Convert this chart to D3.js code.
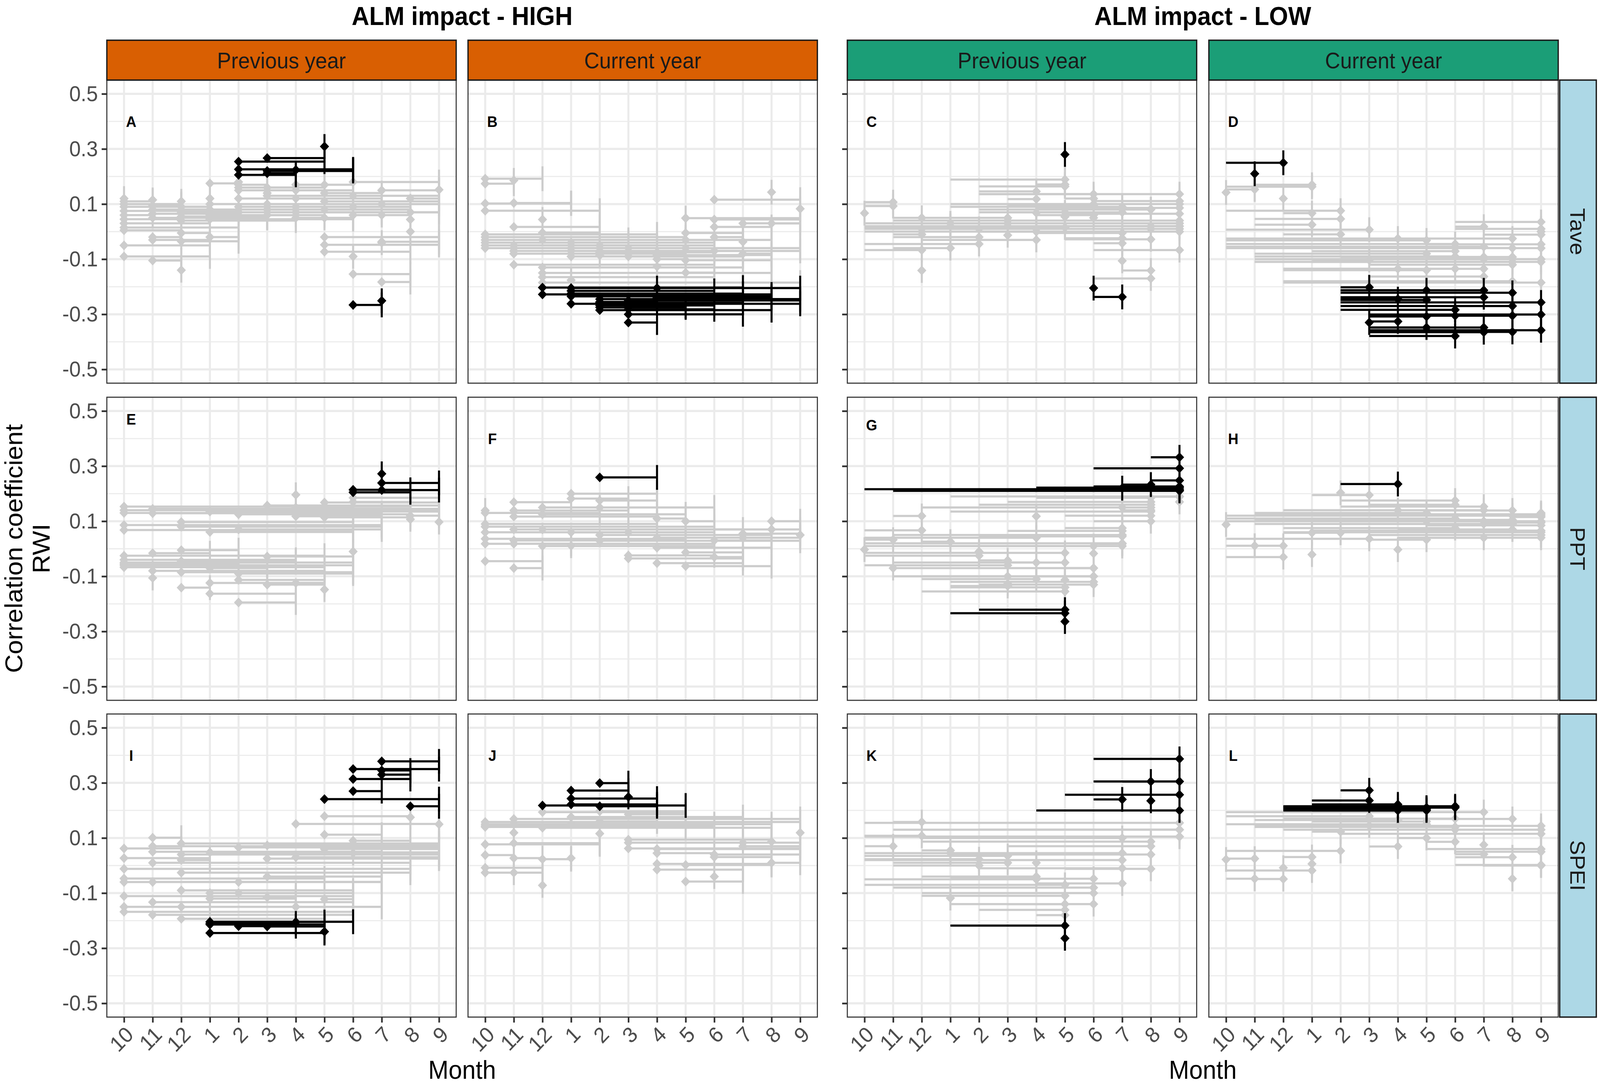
<!DOCTYPE html>
<html lang="en">
<head>
<meta charset="UTF-8">
<title>ALM impact correlations</title>
<style>
  html, body { margin: 0; padding: 0; background: #fff; overflow: hidden; }
  svg { display: block; width: 100vw; height: 100vh; font-family: "Liberation Sans", Arial, Helvetica, sans-serif; }
  .grid-major { stroke: #ebebeb; stroke-width: 5.5; }
  .grid-minor { stroke: #ebebeb; stroke-width: 2.8; }
  .frame { fill: none; stroke: #333; stroke-width: 2.8; }
  .axis .domain { display: none; }
  .axis line { stroke: #333; stroke-width: 4.5; }
  .axis text { fill: #4d4d4d; font-size: 56px; }
</style>
</head>
<body>
<svg></svg>
<script src="https://d3js.org/d3.v7.min.js"></script>
<script>
// axis categories
var monthOrder = [10, 11, 12, 1, 2, 3, 4, 5, 6, 7, 8, 9];
var yTicks = [-0.5, -0.3, -0.1, 0.1, 0.3, 0.5];
var yMinor = [-0.4, -0.2, 0, 0.2, 0.4];
var groupTitles = ["ALM impact - HIGH", "ALM impact - LOW"];
var periodLabels = ["Previous year", "Current year"];
var climateVars = ["Tave", "PPT", "SPEI"];
var panelTags = ["A", "B", "C", "D", "E", "F", "G", "H", "I", "J", "K", "L"];
var tagLevel = [0.4, 0.4, 0.4, 0.4, 0.47, 0.4, 0.45, 0.4, 0.4, 0.4, 0.4, 0.4];

// records: [start month, end month, r]  (sig = black, ns = grey)
var sigA = [[2,5,0.254],[3,5,0.267],[5,5,0.309],[2,6,0.226],[3,6,0.22],[2,4,0.206],[3,4,0.212],[4,6,0.224],[6,7,-0.266],[7,7,-0.251]];
var nsA = [[10,10,0.12],[10,11,0.11],[10,12,0.10],[10,1,0.09],[10,2,0.075],[10,11,0.06],[10,12,0.045],[10,1,0.03],[10,2,0.015],[10,12,0.005],[10,1,-0.05],[10,1,-0.09],
  [11,11,0.115],[11,12,0.095],[11,1,0.08],[11,2,0.065],[11,3,0.05],[11,12,-0.02],[11,1,-0.03],[11,12,-0.105],
  [12,12,0.11],[12,1,0.09],[12,2,0.07],[12,3,0.055],[12,4,0.04],[12,1,-0.005],[12,2,-0.035],[12,12,-0.14],
  [1,1,0.12],[1,2,0.175],[1,3,0.1],[1,4,0.08],[1,5,0.06],[1,6,0.045],[1,2,-0.02],
  [2,2,0.18],[2,3,0.17],[2,4,0.16],[2,6,0.15],[2,5,0.12],[2,6,0.09],[2,7,0.07],[2,3,0.05],
  [3,3,0.14],[3,5,0.16],[3,6,0.13],[3,7,0.1],[3,8,0.08],[3,4,0.06],
  [4,4,0.15],[4,6,0.17],[4,7,0.12],[4,8,0.09],[4,9,0.07],[4,5,0.05],
  [5,5,0.17],[5,7,0.14],[5,9,0.11],[5,8,0.08],[5,6,0.05],[5,9,-0.02],[5,9,-0.048],[5,8,-0.073],
  [6,6,-0.09],[6,8,-0.154],[6,9,0.18],[6,9,0.13],[6,8,0.09],[6,7,0.06],
  [7,7,-0.04],[7,9,-0.037],[7,8,-0.183],[7,9,0.15],[7,9,0.1],[7,8,0.06],
  [8,8,0.044],[8,8,0.0],[8,9,0.12],[8,9,0.07],[9,9,0.152]];

var sigB = [[12,7,-0.203],[12,8,-0.228],[1,4,-0.205],[1,6,-0.215],[1,7,-0.225],[1,8,-0.235],[1,9,-0.262],[2,9,-0.245],[2,7,-0.258],[2,6,-0.268],
  [2,8,-0.285],[2,5,-0.275],[3,5,-0.27],[3,6,-0.282],[3,7,-0.3],[3,4,-0.33],[4,9,-0.205],[4,8,-0.24],[3,9,-0.25],[2,4,-0.255]];
var nsB = [[10,12,0.192],[10,11,0.174],[10,1,0.102],[10,2,0.076],[10,4,-0.01],[10,5,-0.02],[10,3,-0.03],[10,6,-0.04],[10,2,-0.05],[10,4,-0.06],
  [11,11,0.186],[11,1,0.104],[11,2,0.017],[11,6,-0.05],[11,5,-0.06],[11,7,-0.07],[11,4,-0.08],[11,6,-0.12],
  [12,12,0.044],[12,2,-0.004],[12,5,-0.03],[12,7,-0.13],[12,8,-0.15],[12,6,-0.165],[12,9,-0.185],
  [1,3,-0.04],[1,5,-0.06],[1,6,-0.07],[1,1,-0.176],[1,7,-0.09],
  [2,2,-0.086],[2,4,-0.05],[2,6,-0.07],[2,5,-0.075],
  [3,3,-0.06],[3,5,-0.08],[3,7,-0.09],
  [4,4,-0.127],[4,6,-0.075],[4,8,-0.085],[4,5,-0.1],
  [5,5,0.049],[5,9,0.049],[5,7,-0.005],[5,8,-0.03],[5,9,-0.06],[5,8,-0.104],[5,6,-0.149],
  [6,9,0.116],[6,9,0.044],[6,8,0.017],[6,7,-0.02],[6,9,-0.07],
  [7,9,0.03],[7,7,-0.037],[7,8,-0.08],[8,8,0.143],[8,9,0.03],[9,9,0.083]];

var sigC = [[5,5,0.28],[6,6,-0.205],[6,7,-0.237]];
var nsC = [[10,10,0.067],[10,11,0.107],[10,11,0.093],[10,12,-0.067],[10,2,-0.045],[10,12,0.01],[10,1,0.02],[10,3,0.03],[10,4,0.0],[10,5,0.015],
  [11,1,-0.06],[11,12,0.05],[11,3,0.04],[11,12,-0.01],[11,2,-0.02],
  [12,12,-0.141],[12,1,0.03],[12,2,0.01],[12,4,-0.03],[12,3,0.05],
  [1,5,0.189],[1,6,0.1],[1,7,0.09],[1,3,0.02],[1,9,0.03],[1,4,0.01],
  [2,4,0.146],[2,5,0.164],[2,6,0.136],[2,8,0.08],[2,9,0.0],[2,7,0.07],
  [3,4,0.118],[3,5,0.07],[3,3,-0.013],[3,6,0.095],[3,8,0.02],[3,9,0.04],
  [4,5,0.171],[4,4,0.068],[4,6,0.06],[4,8,0.01],[4,9,0.02],[4,7,-0.005],
  [5,5,0.054],[5,7,-0.024],[5,8,-0.028],[5,9,0.065],[5,6,0.12],
  [6,7,-0.042],[6,9,-0.067],[6,8,-0.17],[6,6,0.05],[6,9,0.1],
  [7,7,-0.106],[7,8,-0.141],[7,9,0.02],[8,8,0.082],[8,9,0.01],
  [2,9,0.136],[6,9,0.111],[4,9,0.086]];

var sigD = [[10,12,0.25],[11,11,0.21],[2,3,-0.202],[3,3,-0.33],[3,4,-0.326],[2,4,-0.245],[2,5,-0.213],[2,5,-0.248],[3,5,-0.308],[3,5,-0.348],
  [2,6,-0.284],[3,6,-0.379],[3,6,-0.305],[2,7,-0.213],[2,7,-0.238],[3,7,-0.348],[3,7,-0.365],[2,8,-0.222],[2,8,-0.27],[3,8,-0.305],
  [3,8,-0.364],[2,9,-0.257],[3,9,-0.301],[3,9,-0.358]];
var nsD = [[10,10,0.142],[10,11,0.153],[11,1,0.17],[10,1,0.163],[12,12,0.12],[12,1,0.067],[11,1,0.025],
  [10,2,0.076],[11,2,0.046],[12,2,-0.01],
  [10,3,0.007],[1,3,-0.103],[10,4,-0.025],[12,4,-0.135],[10,5,-0.032],[10,6,-0.045],[10,7,-0.055],[10,8,-0.06],
  [11,5,-0.08],[11,6,-0.09],[11,7,-0.1],[11,8,-0.11],[11,9,-0.1],
  [12,6,-0.135],[12,5,-0.14],[12,9,-0.185],[12,8,-0.18],
  [1,6,-0.071],[1,9,-0.11],[2,7,-0.092],[6,7,0.018],[5,7,-0.135],[3,7,-0.163],
  [4,8,-0.025],[5,8,-0.092],[3,8,-0.12],
  [6,9,0.035],[6,9,0.01],[7,9,-0.011],[5,9,-0.046],[4,9,-0.06],[9,9,0.0]];

var sigE = [[6,8,0.214],[6,8,0.205],[7,7,0.272],[7,9,0.239],[7,9,0.213]];
var nsE = [[10,8,0.153],[10,9,0.14],[10,6,0.13],[10,7,0.086],[10,6,0.068],[10,5,-0.025],[10,4,-0.04],[10,6,-0.05],[10,3,-0.06],[10,5,-0.067],[10,2,-0.055],
  [11,9,0.145],[11,7,0.129],[11,1,-0.016],[11,6,-0.06],[11,5,-0.08],[11,11,-0.106],
  [12,6,0.097],[12,7,0.08],[12,2,-0.005],[12,4,-0.045],[12,6,-0.085],[12,1,-0.141],
  [1,9,0.135],[1,6,0.061],[1,5,-0.124],[1,4,-0.163],[1,3,-0.07],
  [2,8,0.125],[2,7,0.07],[2,5,-0.113],[2,4,-0.195],[2,6,-0.09],
  [3,9,0.157],[3,6,-0.028],[3,5,-0.13],
  [4,4,0.196],[4,7,0.118],[4,5,-0.124],[4,6,0.15],
  [5,9,0.168],[5,8,0.114],[5,5,-0.148],[5,6,0.14],
  [6,6,-0.01],[6,9,0.185],[6,8,0.17],[8,8,0.107],[8,9,0.12],[9,9,0.097]];

var sigF = [[2,4,0.259]];
var nsF = [[10,10,0.139],[10,2,0.13],[10,4,0.09],[10,6,0.08],[10,3,0.06],[10,5,0.036],[10,1,0.018],[10,12,-0.045],
  [11,1,0.169],[11,3,0.139],[11,4,0.117],[11,7,0.07],[11,5,0.03],[11,6,0.018],[11,12,-0.07],
  [12,2,0.15],[12,5,0.125],[12,8,0.07],[12,6,0.01],
  [1,4,0.2],[1,3,0.182],[1,6,0.06],[1,1,0.011],
  [2,4,0.175],[2,6,0.15],[2,8,0.05],[2,9,0.029],
  [3,6,-0.024],[3,7,-0.035],[3,5,0.06],
  [4,5,0.11],[4,8,0.004],[4,7,-0.052],[4,9,0.04],
  [5,6,0.1],[5,7,-0.013],[5,8,-0.063],
  [6,8,0.03],[6,7,-0.03],[7,9,0.055],[7,8,0.04],[8,9,0.1],[8,9,0.07],[9,9,0.05]];

var sigG = [[8,9,0.332],[6,9,0.292],[8,9,0.248],[10,9,0.216],[11,9,0.21],[4,9,0.222],[6,7,0.22],[7,8,0.233],[6,9,0.226],[5,9,0.212],
  [2,5,-0.221],[1,5,-0.234],[5,5,-0.264]];
var nsG = [[10,10,-0.003],[10,11,0.033],[10,12,0.067],[10,4,0.04],[10,6,0.01],[10,7,0.02],[10,5,-0.015],[10,2,-0.025],[10,3,-0.06],
  [11,12,0.119],[11,11,-0.07],[11,6,-0.07],[11,5,-0.05],[11,7,0.05],[11,3,-0.1],
  [12,1,0.026],[12,6,-0.1],[12,5,-0.155],[12,4,-0.11],[12,8,0.15],
  [1,7,0.01],[1,9,0.19],[1,6,-0.12],[1,5,-0.14],[1,3,-0.135],[1,8,0.135],
  [2,2,-0.01],[2,8,0.16],[2,3,-0.042],[2,6,-0.13],[2,7,0.045],
  [3,3,-0.127],[3,7,0.065],[3,8,0.17],[3,4,-0.05],
  [4,4,0.118],[4,7,0.05],[4,6,-0.1],[4,8,0.185],
  [5,5,-0.113],[5,7,0.075],[5,8,0.12],[5,6,-0.07],
  [6,7,0.018],[6,8,0.1],[6,6,-0.017],[7,8,0.14],[7,7,0.15],[8,9,0.189],[9,9,0.17]];

var sigH = [[2,4,0.235]];
var nsH = [[10,10,0.088],[10,11,0.011],[10,12,-0.03],[10,9,0.12],[10,3,0.036],[10,7,0.1],[10,6,0.11],
  [11,12,0.011],[11,9,0.125],[11,8,0.105],[11,5,0.13],[11,7,0.09],
  [12,1,0.058],[12,2,0.058],[12,9,0.06],[12,6,0.075],[12,4,0.14],
  [1,1,-0.021],[1,3,0.195],[1,5,0.1],[1,9,0.066],
  [2,2,0.203],[2,6,0.175],[2,7,0.153],[2,8,0.09],
  [3,5,0.033],[3,9,0.05],[3,6,0.16],
  [4,4,-0.003],[4,7,0.14],[4,8,0.07],[4,9,0.04],
  [5,8,0.139],[5,9,0.085],[5,7,0.04],
  [6,8,0.12],[6,9,0.1],[7,9,0.095],[8,9,0.115],[9,9,0.13]];

var sigI = [[7,9,0.378],[6,9,0.35],[7,8,0.345],[7,8,0.33],[6,8,0.314],[6,7,0.27],[5,9,0.241],[8,9,0.215],
  [1,6,-0.204],[1,5,-0.214],[2,4,-0.22],[3,5,-0.221],[1,5,-0.245],[5,5,-0.24],[1,4,-0.21],[4,5,-0.205]];
var nsI = [[10,12,0.062],[10,1,0.027],[10,8,-0.012],[10,5,-0.047],[10,7,-0.06],[10,6,-0.111],[10,5,-0.15],[10,6,-0.168],
  [11,12,0.101],[11,9,0.07],[11,7,0.05],[11,8,0.01],[11,7,-0.06],[11,6,-0.133],[11,6,-0.179],
  [12,9,0.08],[12,9,0.04],[12,1,0.02],[12,8,-0.026],[12,6,-0.09],[12,5,-0.193],[12,1,-0.15],
  [1,9,0.048],[1,6,-0.1],[1,4,-0.12],
  [2,9,0.066],[2,7,-0.06],[2,4,-0.1],
  [3,9,0.073],[3,9,0.025],[3,7,-0.04],[3,4,-0.115],
  [4,9,0.151],[4,9,0.03],[4,7,-0.15],
  [5,8,0.179],[5,7,0.112],[5,6,-0.122],[5,9,0.06],
  [6,6,0.045],[6,8,0.09],[8,8,0.175],[9,9,0.15]];

var sigJ = [[2,3,0.299],[1,3,0.272],[1,4,0.243],[3,3,0.249],[12,5,0.218],[1,4,0.222],[2,4,0.215]];
var nsJ = [[10,9,0.158],[10,8,0.15],[10,6,0.144],[10,5,0.14],[10,2,0.077],[10,11,0.038],[10,12,-0.008],[10,11,-0.026],
  [11,9,0.169],[11,7,0.15],[11,11,0.119],[11,2,0.081],[11,12,0.027],[11,12,-0.026],
  [12,5,0.194],[12,8,0.137],[12,1,0.023],[12,12,-0.072],
  [1,7,0.176],[1,1,0.027],[1,6,0.15],
  [2,5,0.197],[2,2,0.116],[2,4,0.16],
  [3,5,0.186],[3,8,0.094],[3,9,0.083],[3,9,0.062],
  [4,6,0.045],[4,9,0.06],[4,8,0.006],[4,7,-0.015],
  [5,8,0.002],[5,7,-0.058],
  [6,8,0.031],[6,6,-0.04],[6,9,0.04],
  [7,7,0.083],[7,9,0.07],[8,8,0.087],[8,9,0.01],[9,9,0.119]];

var sigK = [[6,9,0.387],[6,8,0.305],[7,9,0.305],[5,9,0.257],[6,7,0.24],[8,8,0.235],[4,9,0.2],[1,5,-0.218],[5,5,-0.264]];
var nsK = [[10,9,0.155],[11,9,0.13],[10,9,0.105],[11,12,0.158],[10,12,0.108],[10,11,0.07],
  [12,1,0.055],[10,1,0.045],[10,2,0.023],[11,2,0.0],[10,3,0.035],[11,3,0.01],[12,4,-0.04],[10,4,-0.05],
  [12,5,-0.11],[1,5,-0.14],[2,5,-0.161],[4,5,-0.18],[10,5,-0.07],
  [1,6,-0.048],[11,6,-0.08],[12,6,-0.1],[3,6,-0.14],
  [12,7,0.1],[1,7,0.045],[10,7,0.02],[2,7,-0.01],[4,7,-0.065],
  [12,8,0.087],[3,8,0.07],[1,8,0.04],[5,8,-0.012],
  [2,9,0.13],[12,9,0.105],[1,1,-0.118],[4,4,0.01]];

var sigL = [[2,3,0.273],[1,3,0.236],[12,4,0.215],[1,4,0.222],[12,5,0.205],[1,5,0.21],[1,6,0.215],[12,6,0.21],[1,5,0.2],[12,4,0.2]];
var nsL = [[10,10,0.022],[10,11,0.025],[10,11,-0.048],[11,12,-0.049],[12,12,-0.008],
  [12,1,0.031],[1,1,0.006],[10,1,-0.018],[10,2,0.053],[1,2,0.123],
  [10,3,0.179],[11,4,0.165],[10,5,0.15],[11,6,0.14],[10,7,0.194],[12,6,0.13],[1,5,0.16],[11,3,0.145],
  [3,4,0.069],[4,5,0.1],[12,6,0.17],[5,6,0.086],
  [7,7,0.075],[6,7,0.041],[5,8,0.169],[6,8,0.03],[8,8,-0.048],
  [3,9,0.144],[4,9,0.13],[2,9,0.115],[5,9,0.06],[6,9,0.05],[6,9,0.002],[7,9,0.0]];

var panelSig = [sigA, sigB, sigC, sigD, sigE, sigF, sigG, sigH, sigI, sigJ, sigK, sigL];
var panelNs = [nsA, nsB, nsC, nsD, nsE, nsF, nsG, nsH, nsI, nsJ, nsK, nsL];

// layout
var width = 4328, height = 2783;
var colX = [289, 1266, 2292, 3270];
var rowY = [205, 1017, 1828];
var pw = 945, ph = 776;
var stripTop = 103, stripH = 102;
var sideX = 4219, sideW = 99;
var groupFill = ["#d95f02", "#1b9e77"];
var ciHalf = 0.045;

// stretch the drawing over the whole window
var svg = d3.select("svg")
  .attr("viewBox", "0 0 " + width + " " + height)
  .attr("preserveAspectRatio", "none");

var x = d3.scalePoint().domain(monthOrder).range([0, pw]).padding(0.6);
var y = d3.scaleLinear().domain([-0.55, 0.55]).range([ph, 0]);

function diamond(r) {
  return "M0," + (-r) + "L" + r + ",0L0," + r + "L" + (-r) + ",0Z";
}

panelTags.forEach(function(tag, i) {
  var row = Math.floor(i / 4), col = i % 4;
  var grp = col < 2 ? 0 : 1;
  var g = svg.append("g").attr("transform", "translate(" + colX[col] + "," + rowY[row] + ")");

  // grid
  g.selectAll(".ymin").data(yMinor).enter().append("line")
    .attr("class", "grid-minor").attr("x1", 0).attr("x2", pw)
    .attr("y1", d => y(d)).attr("y2", d => y(d));
  g.selectAll(".ymaj").data(yTicks).enter().append("line")
    .attr("class", "grid-major").attr("x1", 0).attr("x2", pw)
    .attr("y1", d => y(d)).attr("y2", d => y(d));
  g.selectAll(".xmaj").data(monthOrder).enter().append("line")
    .attr("class", "grid-major").attr("y1", 0).attr("y2", ph)
    .attr("x1", d => x(d)).attr("x2", d => x(d));

  // HIGH panels mark the window start, LOW panels the window end
  function drawSet(data, colour) {
    var s = g.append("g");
    s.selectAll(".h").data(data).enter().append("line")
      .attr("x1", d => x(d[0])).attr("x2", d => x(d[1]))
      .attr("y1", d => y(d[2])).attr("y2", d => y(d[2]))
      .attr("stroke", colour).attr("stroke-width", 5.5);
    s.selectAll(".v").data(data).enter().append("line")
      .attr("x1", d => x(d[1])).attr("x2", d => x(d[1]))
      .attr("y1", d => y(d[2] - ciHalf)).attr("y2", d => y(d[2] + ciHalf))
      .attr("stroke", colour).attr("stroke-width", 5.5);
    s.selectAll(".p").data(data).enter().append("path")
      .attr("d", diamond(12.5))
      .attr("transform", d => "translate(" + x(grp === 0 ? d[0] : d[1]) + "," + y(d[2]) + ")")
      .attr("fill", colour);
  }
  drawSet(panelNs[i], "#cccccc");
  drawSet(panelSig[i], "#000000");

  g.append("text")
    .attr("x", x(monthOrder[0]) + 0.25 * x.step())
    .attr("y", y(tagLevel[i]))
    .attr("dy", "0.36em")
    .attr("text-anchor", "middle")
    .attr("font-weight", "bold")
    .attr("font-size", 39)
    .text(tag);

  g.append("rect").attr("class", "frame").attr("width", pw).attr("height", ph);

  // y axis on first column of each group
  if (col === 0 || col === 2) {
    var ya = g.append("g").attr("class", "axis")
      .call(d3.axisLeft(y).tickValues(yTicks).tickSize(14).tickPadding(10)
        .tickFormat(d => d.toFixed(1)));
    if (col === 2) ya.selectAll("text").remove();
  }
  // x axis on bottom row
  if (row === 2) {
    var xa = g.append("g").attr("class", "axis").attr("transform", "translate(0," + ph + ")")
      .call(d3.axisBottom(x).tickSize(14).tickPadding(6));
    xa.selectAll("text")
      .attr("text-anchor", "end")
      .attr("dy", "0.71em")
      .attr("transform", function() {
        var yy = d3.select(this).attr("y");
        return "rotate(-45,0," + yy + ")";
      });
  }
});

// top strips
colX.forEach(function(cx, col) {
  var grp = col < 2 ? 0 : 1;
  svg.append("rect").attr("x", cx).attr("y", stripTop).attr("width", pw).attr("height", stripH)
    .attr("fill", groupFill[grp]).attr("stroke", "#1a1a1a").attr("stroke-width", 3.5);
  svg.append("text").attr("x", cx + pw / 2).attr("y", stripTop + stripH / 2)
    .attr("dy", "0.36em").attr("text-anchor", "middle")
    .attr("font-size", 57).attr("fill", "#1a1a1a")
    .text(periodLabels[col % 2]);
});

// right strips
climateVars.forEach(function(v, row) {
  svg.append("rect").attr("x", sideX).attr("y", rowY[row]).attr("width", sideW).attr("height", ph)
    .attr("fill", "#add8e6").attr("stroke", "#1a1a1a").attr("stroke-width", 3.5);
  svg.append("text")
    .attr("transform", "translate(" + (sideX + sideW / 2) + "," + (rowY[row] + ph / 2) + ") rotate(90)")
    .attr("dy", "0.36em").attr("text-anchor", "middle")
    .attr("font-size", 57).attr("fill", "#1a1a1a")
    .text(v);
});

// group titles and x titles
groupTitles.forEach(function(t, k) {
  var cx = (colX[2 * k] + colX[2 * k + 1] + pw) / 2;
  svg.append("text").attr("x", cx).attr("y", 64).attr("text-anchor", "middle")
    .attr("font-size", 66).attr("font-weight", "bold").attr("fill", "#000")
    .text(t);
  svg.append("text").attr("x", cx).attr("y", 2762).attr("text-anchor", "middle")
    .attr("font-size", 66).attr("fill", "#000")
    .text("Month");
});

// y title
var yt = svg.append("g").attr("transform", "translate(0," + (rowY[0] + rowY[2] + ph) / 2 + ") rotate(-90)");
yt.append("text").attr("y", 60).attr("text-anchor", "middle").attr("font-size", 66).text("Correlation coefficient");
yt.append("text").attr("y", 134).attr("text-anchor", "middle").attr("font-size", 66).text("RWI");
</script>
</body>
</html>
